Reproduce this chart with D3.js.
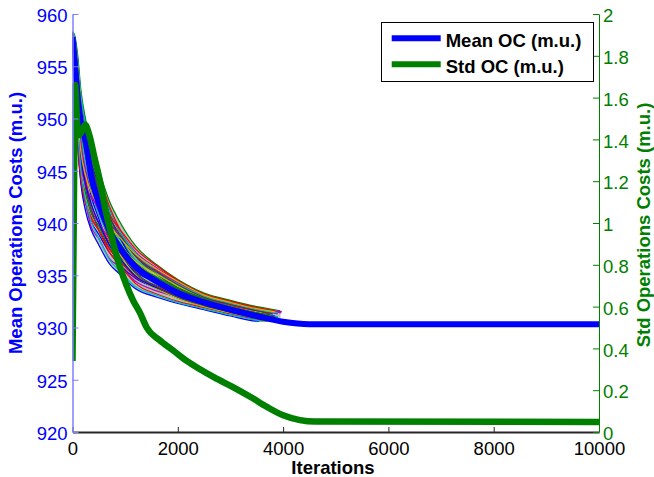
<!DOCTYPE html>
<html><head><meta charset="utf-8">
<script src="https://cdn.jsdelivr.net/npm/d3@7/dist/d3.min.js"></script>
<style>
body{margin:0;background:#fff}
svg{display:block}
text{font-family:"Liberation Sans",Arial,Helvetica,sans-serif}
</style>
</head><body>
<svg id="chart" width="654" height="477"></svg>
<script>
// ---------------- data ----------------
const xTicks = [0, 2000, 4000, 6000, 8000, 10000];
const leftTicks = [920, 925, 930, 935, 940, 945, 950, 955, 960];
const rightTicks = [0, 0.2, 0.4, 0.6, 0.8, 1, 1.2, 1.4, 1.6, 1.8, 2];

// spread of the individual runs (lower / upper envelope)
const bandIter = [0, 40, 100, 160, 250, 350, 500, 700, 900, 1200, 1600, 2000, 2500, 3000, 3500, 3950];
const bandLow  = [957.8, 953.0, 947.0, 943.5, 941.0, 939.3, 937.8, 936.0, 935.0, 933.6, 932.9, 932.3, 931.7, 931.1, 930.6, 930.5];
const bandHigh = [958.3, 958.0, 956.0, 952.8, 950.0, 947.8, 945.2, 942.2, 940.2, 937.8, 936.0, 934.6, 933.3, 932.6, 932.0, 931.5];

// individual runs: values at common iteration grid + end point
const runIter = [0, 40, 100, 160, 250, 350, 500, 700, 900, 1200, 1600, 2000, 2500, 3000, 3500];
const run01 = [957.9, 953.5, 947.9, 944.4, 941.9, 940.2, 938.9, 937.2, 936.0, 934.7, 933.8, 933.0, 932.2, 931.6, 931.0];
const run02 = [958.2, 957.5, 955.1, 951.4, 948.2, 946.1, 943.4, 940.3, 938.6, 936.3, 934.8, 933.7, 932.7, 931.9, 931.3];
const run03 = [958.0, 956.0, 953.3, 950.5, 948.2, 946.5, 944.5, 941.6, 939.4, 937.0, 935.5, 934.4, 933.1, 932.3, 931.6];
const run04 = [957.9, 955.0, 949.7, 945.8, 943.7, 942.3, 940.8, 938.8, 937.6, 935.7, 934.6, 933.5, 932.4, 931.7, 931.1];
const run05 = [958.3, 957.8, 955.6, 951.9, 949.1, 946.5, 944.1, 941.0, 939.2, 937.2, 935.7, 934.5, 933.2, 932.5, 931.9];
const run06 = [958.1, 956.5, 953.8, 951.0, 947.8, 945.3, 942.6, 940.3, 938.9, 936.5, 935.2, 934.1, 932.9, 932.2, 931.5];
const run07 = [958.0, 954.5, 950.2, 947.2, 945.1, 943.6, 941.1, 938.5, 937.1, 935.1, 933.8, 933.1, 932.3, 931.8, 931.2];
const run08 = [958.2, 956.0, 952.0, 948.2, 945.1, 942.7, 940.4, 937.9, 936.8, 935.3, 934.3, 933.5, 932.6, 932.0, 931.4];
const run09 = [957.9, 954.0, 948.8, 944.9, 942.8, 941.0, 939.7, 937.6, 936.6, 934.9, 933.7, 932.8, 932.0, 931.3, 930.7];
const run10 = [958.0, 955.5, 951.1, 947.2, 944.2, 941.9, 940.0, 938.2, 937.1, 935.5, 934.5, 933.6, 932.7, 932.1, 931.6];
const run11 = [958.2, 956.8, 953.3, 949.5, 946.4, 944.4, 942.2, 939.7, 938.4, 936.5, 935.2, 933.9, 932.7, 932.0, 931.3];
const run12 = [957.9, 954.0, 948.4, 944.4, 941.9, 939.7, 938.5, 936.6, 935.8, 934.4, 933.5, 932.9, 932.2, 931.6, 931.0];
const run13 = [957.9, 954.5, 950.6, 947.7, 945.5, 944.0, 941.5, 939.4, 938.1, 936.1, 934.9, 933.9, 932.8, 932.2, 931.7];
const run14 = [958.1, 957.0, 954.7, 951.9, 949.6, 947.4, 944.5, 941.3, 939.2, 936.8, 935.1, 933.8, 932.7, 931.9, 931.3];
const run15 = [958.0, 955.3, 952.4, 949.5, 947.3, 945.7, 943.7, 940.7, 938.6, 936.1, 934.5, 933.3, 932.3, 931.6, 931.0];
const run16 = [958.3, 957.3, 954.2, 950.5, 947.3, 944.8, 942.2, 939.4, 937.6, 935.9, 934.8, 933.8, 932.8, 932.2, 931.7];
const run17 = [957.9, 953.3, 947.5, 944.0, 941.9, 940.6, 939.3, 937.2, 936.0, 934.2, 933.2, 932.5, 931.9, 931.3, 930.8];
const run18 = [958.0, 955.8, 952.4, 948.6, 945.5, 943.1, 940.8, 938.8, 937.6, 935.9, 934.8, 933.7, 932.6, 931.9, 931.2];
const run19 = [958.2, 956.3, 951.5, 946.8, 943.7, 941.4, 940.0, 938.5, 937.3, 935.7, 934.6, 933.7, 932.7, 932.2, 931.7];
const run20 = [957.9, 955.5, 952.0, 949.1, 946.9, 944.8, 943.0, 940.0, 938.1, 936.3, 935.1, 934.0, 933.0, 932.4, 931.8];
const run21 = [957.9, 954.3, 949.3, 946.3, 943.3, 941.4, 939.3, 937.6, 936.3, 934.9, 934.0, 933.2, 932.3, 931.6, 931.0];
const run22 = [957.8, 953.1, 947.2, 943.7, 941.1, 939.4, 937.9, 936.1, 935.1, 933.7, 932.9, 932.3, 931.7, 931.1, 930.6];
const run23 = [958.3, 958.0, 956.0, 952.7, 949.9, 947.7, 945.1, 942.1, 940.1, 937.8, 936.0, 934.6, 933.3, 932.6, 932.0];
const run24 = [957.8, 953.3, 947.6, 944.2, 942.0, 940.5, 939.3, 937.5, 936.4, 934.8, 933.9, 933.1, 932.4, 931.8, 931.2];
const run25 = [958.3, 957.8, 955.5, 952.3, 949.4, 947.0, 944.3, 941.2, 939.2, 937.1, 935.4, 934.2, 933.0, 932.3, 931.7];
const run26 = [957.9, 953.8, 948.5, 945.5, 943.5, 942.5, 941.5, 940.0, 938.8, 936.8, 935.4, 934.3, 933.1, 932.4, 931.8];
const run27 = [958.2, 957.5, 955.0, 951.5, 948.0, 945.2, 942.0, 938.8, 937.0, 935.0, 933.7, 932.8, 932.0, 931.4, 930.9];
const run28 = [958.2, 956.8, 953.8, 950.5, 947.8, 945.7, 943.3, 940.6, 938.9, 936.8, 935.3, 934.1, 932.9, 932.2, 931.6];
const run29 = [957.9, 954.5, 949.7, 946.3, 943.7, 941.9, 940.0, 937.9, 936.6, 934.9, 933.8, 933.0, 932.2, 931.6, 931.0];
const run30 = [958.1, 956.0, 952.4, 949.1, 946.4, 944.4, 942.2, 939.7, 938.1, 936.1, 934.8, 933.7, 932.7, 932.0, 931.4];
const run31 = [958.2, 957.0, 954.0, 950.0, 947.0, 945.0, 943.0, 940.8, 939.4, 937.5, 935.9, 934.5, 933.2, 932.5, 931.9];
const run32 = [957.8, 954.0, 949.0, 945.0, 942.2, 940.2, 938.5, 936.5, 935.4, 933.9, 933.1, 932.4, 931.8, 931.2, 930.7];
const run33 = [958.0, 955.2, 951.0, 947.7, 945.0, 943.0, 941.1, 938.8, 937.4, 935.5, 934.3, 933.3, 932.4, 931.8, 931.2];
const run34 = [958.0, 954.8, 950.1, 946.8, 944.5, 943.0, 941.6, 939.8, 938.6, 937.0, 935.6, 934.4, 933.1, 932.4, 931.8];
const run35 = [958.2, 957.2, 954.6, 951.0, 948.2, 945.8, 942.9, 939.6, 937.6, 935.3, 933.9, 932.9, 932.1, 931.5, 930.9];
const runEndIter = [3800, 3900, 3750, 3600, 3960, 3650, 3550, 3850, 3700, 3800, 3900, 3520, 3750, 3850, 3600, 3800, 3650, 3700,
                    3900, 3800, 3600, 3550, 3950, 3700, 3900, 3980, 3650, 3800, 3700, 3750, 3850, 3600, 3750, 3850, 3600];
const runEndVal  = [930.8, 931.0, 931.3, 931.0, 931.4, 931.3, 931.0, 931.1, 930.6, 931.3, 931.0, 931.0, 931.4, 931.0, 930.9, 931.3,
                    930.7, 931.0, 931.3, 931.5, 930.9, 930.6, 931.6, 931.0, 931.4, 931.5, 930.8, 931.3, 930.8, 931.2, 931.6,
                    930.6, 931.0, 931.5, 930.8];
const runs = [run01, run02, run03, run04, run05, run06, run07, run08, run09, run10, run11, run12,
              run13, run14, run15, run16, run17, run18, run19, run20, run21, run22, run23, run24,
              run25, run26, run27, run28, run29, run30, run31, run32, run33, run34, run35];

// mean operations cost (left axis)
const meanIter = [0, 40, 100, 160, 250, 350, 500, 700, 900, 1200, 1600, 2000, 2500, 3000, 3500, 4000, 4500, 10000];
const meanVal  = [957.8, 955.6, 952.0, 949.6, 947.8, 944.6, 941.9, 939.3, 937.6, 935.8, 934.4, 933.3, 932.4, 931.7, 931.1, 930.55, 930.32, 930.3];

// std operations cost (right axis)
const stdIter = [0, 30, 50, 75, 100, 160, 240, 320, 420, 522, 620, 712, 807, 900, 1029, 1150, 1282, 1409, 1650, 1913, 2170, 2421, 2700, 3048, 3400, 3694, 4000, 4321, 4600, 10000];
const stdVal  = [0.34, 1.20, 1.66, 1.55, 1.42, 1.43, 1.47, 1.42, 1.31, 1.20, 1.07, 0.97, 0.87, 0.79, 0.70, 0.63, 0.57, 0.50, 0.44, 0.39, 0.34, 0.30, 0.26, 0.215, 0.165, 0.12, 0.08, 0.057, 0.05, 0.048];

const runColors = ["#0000ff", "#008000", "#ff0000", "#00bfbf", "#bf00bf", "#bfbf00", "#404040"];
const legendLabels = ["Mean OC (m.u.)", "Std OC (m.u.)"];

// ---------------- layout ----------------
const L = 72.5, R = 599, T = 14, B = 432;
const FS = 18.5;
const BLUE = "#0000ff", GREEN = "#008000";

const svg = d3.select("#chart");
const x = d3.scaleLinear().domain([0, 10000]).range([L, R]);
const yL = d3.scaleLinear().domain([920, 960]).range([B, T]);
const yR = d3.scaleLinear().domain([0, 2]).range([B, T]);

svg.append("defs").append("clipPath").attr("id", "clip")
  .append("rect").attr("x", L).attr("y", T).attr("width", R - L).attr("height", B - T);

const plot = svg.append("g").attr("clip-path", "url(#clip)");

const lineL = d3.line().x(d => x(d[0])).y(d => yL(d[1])).curve(d3.curveMonotoneX);
const lineR = d3.line().x(d => x(d[0])).y(d => yR(d[1])).curve(d3.curveMonotoneX);

// envelope of runs (dense bundle background)
const area = d3.area().x(d => x(d[0])).y0(d => yL(d[1])).y1(d => yL(d[2])).curve(d3.curveMonotoneX);
plot.append("path").attr("d", area(bandIter.map((it, k) => [it, bandLow[k], bandHigh[k]])))
  .attr("fill", "#6f9484").attr("fill-opacity", 0.55).attr("stroke", "none");

// runs
runs.forEach((vals, i) => {
  const pts = runIter.map((it, k) => [it, vals[k]]);
  pts.push([runEndIter[i], runEndVal[i]]);
  plot.append("path").attr("d", lineL(pts))
    .attr("fill", "none").attr("stroke", runColors[i % runColors.length])
    .attr("stroke-width", 1.2).attr("stroke-linejoin", "round");
});

// mean
plot.append("path").attr("d", lineL(meanIter.map((it, k) => [it, meanVal[k]])))
  .attr("fill", "none").attr("stroke", BLUE).attr("stroke-width", 6).attr("stroke-linejoin", "round");
// std
plot.append("path").attr("d", lineR(stdIter.map((it, k) => [it, stdVal[k]])))
  .attr("fill", "none").attr("stroke", GREEN).attr("stroke-width", 6.5).attr("stroke-linejoin", "round");

// ---------------- axes ----------------
function styleAxis(g, lineColor, textColor, lineWidth) {
  g.selectAll("text").attr("fill", textColor).style("font-size", FS + "px")
    .style("font-family", '"Liberation Sans",Arial,sans-serif');
  g.selectAll("line").attr("stroke", lineColor).attr("stroke-width", 1);
  g.select(".domain").attr("stroke", lineColor).attr("stroke-width", lineWidth);
}

const gx = svg.append("g").attr("transform", `translate(0,${B})`)
  .call(d3.axisBottom(x).tickValues(xTicks).tickFormat(d3.format("d")).tickSizeInner(-5).tickSizeOuter(0).tickPadding(9.7));
styleAxis(gx, "#262626", "#000", 2);

const gl = svg.append("g").attr("transform", `translate(${L},0)`)
  .call(d3.axisLeft(yL).tickValues(leftTicks).tickFormat(d3.format("d")).tickSizeInner(-6).tickSizeOuter(0).tickPadding(5));
styleAxis(gl, "#7f7fff", BLUE, 1.5);
gl.selectAll("text").attr("dy", "0.4em");

const gr = svg.append("g").attr("transform", `translate(${R},0)`)
  .call(d3.axisRight(yR).tickValues(rightTicks).tickFormat(d => String(+d.toFixed(1))).tickSizeInner(-6).tickSizeOuter(0).tickPadding(4));
styleAxis(gr, GREEN, GREEN, 1);
gr.selectAll("text").attr("dy", "0.42em");

// axis titles
svg.append("text").attr("x", 333).attr("y", 473.5).attr("text-anchor", "middle")
  .attr("font-weight", "bold").attr("font-size", FS).attr("fill", "#000").text("Iterations");
svg.append("text").attr("transform", `translate(21.7,${(T + B) / 2}) rotate(-90)`).attr("text-anchor", "middle")
  .attr("font-weight", "bold").attr("font-size", FS).attr("fill", BLUE).text("Mean Operations Costs (m.u.)");
svg.append("text").attr("transform", `translate(649.5,${(T + B) / 2 + 2}) rotate(-90)`).attr("text-anchor", "middle")
  .attr("font-weight", "bold").attr("font-size", FS).attr("fill", GREEN).text("Std Operations Costs (m.u.)");

// ---------------- legend ----------------
const lg = svg.append("g");
lg.append("rect").attr("x", 381.5).attr("y", 22.5).attr("width", 212).attr("height", 59)
  .attr("fill", "#fff").attr("stroke", "#000").attr("stroke-width", 1);
const legColors = [BLUE, GREEN];
const legY = [38.3, 64.3];
legendLabels.forEach((lab, i) => {
  lg.append("line").attr("x1", 391.7).attr("x2", 440.7).attr("y1", legY[i]).attr("y2", legY[i])
    .attr("stroke", legColors[i]).attr("stroke-width", 6);
  lg.append("text").attr("x", 445.7).attr("y", legY[i] + 8.4).attr("font-weight", "bold")
    .attr("font-size", FS).attr("fill", "#000").text(lab);
});
</script>
</body></html>
